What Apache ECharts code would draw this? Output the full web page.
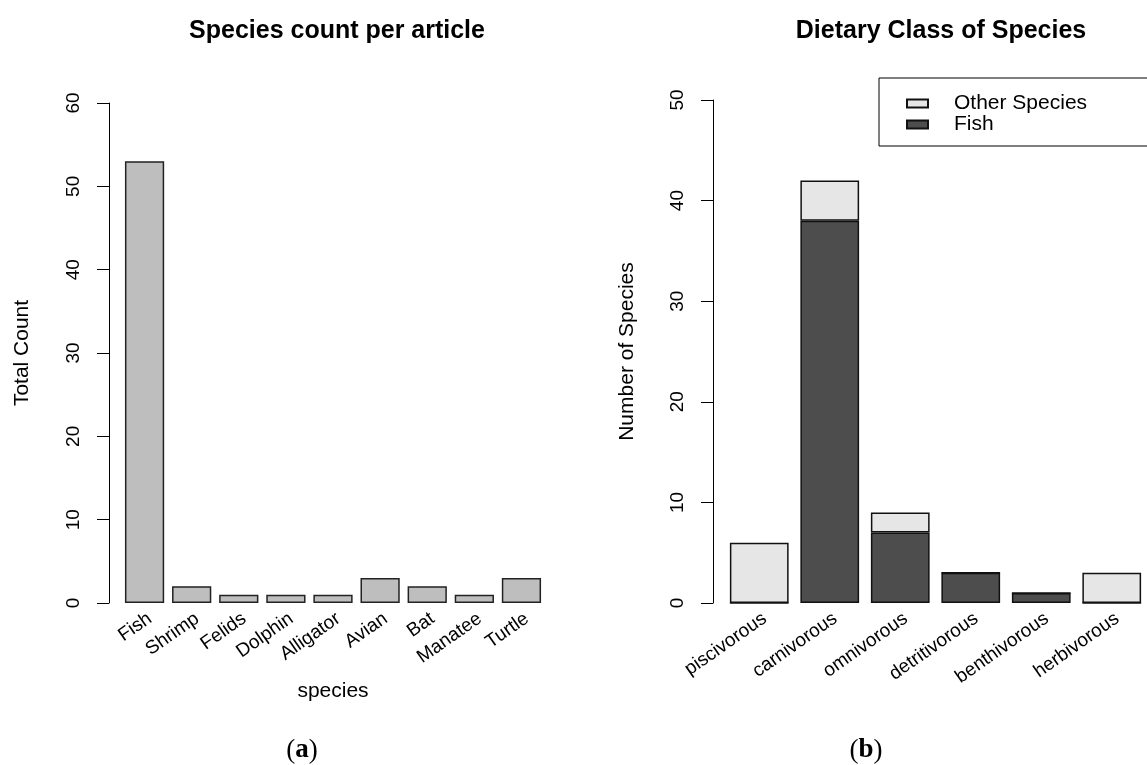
<!DOCTYPE html>
<html>
<head>
<meta charset="utf-8">
<script src="https://cdn.jsdelivr.net/npm/echarts@6/dist/echarts.min.js"></script>
<style>
  html, body { margin: 0; padding: 0; background: #fff; }
  #chart { width: 1147px; height: 765px; }
</style>
</head>
<body>
<div id="chart"></div>
<script>
// panel (a)
const speciesNames = ['Fish', 'Shrimp', 'Felids', 'Dolphin', 'Alligator', 'Avian', 'Bat', 'Manatee', 'Turtle']
const speciesCounts = [53, 2, 1, 1, 1, 3, 2, 1, 3]
const countTicks = [0, 10, 20, 30, 40, 50, 60]

// panel (b)
const dietClasses = ['piscivorous', 'carnivorous', 'omnivorous', 'detritivorous', 'benthivorous', 'herbivorous']
const fishByDiet = [0, 38, 7, 3, 1, 0]
const otherByDiet = [6, 4, 2, 0, 0, 3]
const dietTicks = [0, 10, 20, 30, 40, 50]

const FONT = '"Liberation Sans", Arial, sans-serif'
const SERIF = '"Liberation Serif", "Times New Roman", serif'
const MID_GREY = '#bebebe'
const DARK = '#4d4d4d'
const LIGHT = '#e6e6e6'

const chart = echarts.init(document.getElementById('chart'))

const yAxisBase = {
  type: 'value',
  nameLocation: 'middle',
  nameRotate: 90,
  nameTextStyle: { color: '#000', fontFamily: FONT, fontSize: 21 },
  axisLine: { show: true, lineStyle: { color: '#000', width: 1 } },
  axisTick: { show: true, length: 12, lineStyle: { color: '#000' } },
  axisLabel: { color: '#000', fontFamily: FONT, fontSize: 19, rotate: 90, margin: 26 },
  splitLine: { show: false },
}

const xAxisBase = {
  type: 'category',
  axisLine: { show: false },
  axisTick: { show: false },
  axisLabel: {
    color: '#000', fontFamily: FONT, fontSize: 19, rotate: 35,
    interval: 0, margin: 6, verticalAlign: 'top',
  },
}

function caption(letter, x) {
  return {
    text: '({b|' + letter + '})', left: x, top: 732, textAlign: 'center',
    textStyle: {
      fontFamily: SERIF, fontSize: 27, fontWeight: 'normal', color: '#000',
      rich: { b: { fontFamily: SERIF, fontSize: 27, fontWeight: 'bold', color: '#000' } },
    },
  }
}

const option = {
  backgroundColor: '#fff',
  animation: false,
  title: [
    {
      text: 'Species count per article', left: 332, top: 14, textAlign: 'center',
      textStyle: { fontFamily: FONT, fontSize: 25, fontWeight: 'bold', color: '#000' },
    },
    {
      text: 'Dietary Class of Species', left: 936, top: 14, textAlign: 'center',
      textStyle: { fontFamily: FONT, fontSize: 25, fontWeight: 'bold', color: '#000' },
    },
    caption('a', 297),
    caption('b', 861),
  ],
  legend: {
    data: ['Other Species', 'Fish'],
    orient: 'vertical',
    left: 879,
    top: 78,
    padding: [15, 200, 11, 27],
    itemGap: 0,
    itemWidth: 21,
    itemHeight: 8,
    icon: 'rect',
    borderColor: '#000',
    borderWidth: 1,
    selectedMode: false,
    textStyle: { color: '#000', fontFamily: FONT, fontSize: 21, lineHeight: 18, padding: [0, 0, 0, 21] },
  },
  grid: [
    { left: 121, top: 103, width: 424, height: 500 },
    { left: 724, top: 100, width: 426, height: 503 },
  ],
  xAxis: [
    {
      ...xAxisBase, gridIndex: 0, data: speciesNames,
      name: 'species', nameLocation: 'middle', nameGap: 78,
      nameTextStyle: { color: '#000', fontFamily: FONT, fontSize: 21, verticalAlign: 'top' },
    },
    { ...xAxisBase, gridIndex: 1, data: dietClasses },
  ],
  yAxis: [
    {
      ...yAxisBase, gridIndex: 0, min: countTicks[0], max: countTicks[countTicks.length - 1],
      interval: 10, offset: 12, name: 'Total Count', nameGap: 76,
    },
    {
      ...yAxisBase, gridIndex: 1, min: dietTicks[0], max: dietTicks[dietTicks.length - 1],
      interval: 10, offset: 11, name: 'Number of Species', nameGap: 75,
    },
  ],
  series: [
    {
      name: 'Species count', type: 'bar', xAxisIndex: 0, yAxisIndex: 0,
      data: speciesCounts, barCategoryGap: '16.7%',
      itemStyle: { color: MID_GREY, borderColor: '#222', borderWidth: 1.5 },
    },
    {
      name: 'Fish', type: 'bar', stack: 'diet', xAxisIndex: 1, yAxisIndex: 1,
      data: fishByDiet, barCategoryGap: '16.7%',
      itemStyle: { color: DARK, borderColor: '#111', borderWidth: 1.5 },
    },
    {
      name: 'Other Species', type: 'bar', stack: 'diet', xAxisIndex: 1, yAxisIndex: 1,
      data: otherByDiet, barCategoryGap: '16.7%',
      itemStyle: { color: LIGHT, borderColor: '#111', borderWidth: 1.5 },
    },
  ],
}

chart.setOption(option)
</script>
</body>
</html>
